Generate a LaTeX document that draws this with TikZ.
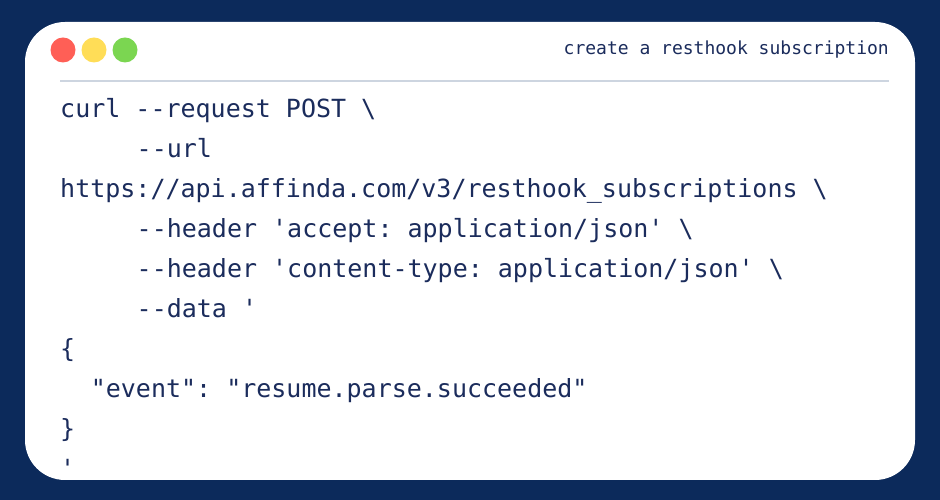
\documentclass[tikz,border=0pt]{standalone}
\usepackage{fontspec}
\setmonofont{DejaVu Sans Mono}
\definecolor{navy}{HTML}{0C2A5B}
\definecolor{codec}{HTML}{1B2C5C}
\definecolor{sep}{HTML}{CDD5E0}
\definecolor{dred}{HTML}{FF5F56}
\definecolor{dyel}{HTML}{FFDD57}
\definecolor{dgrn}{HTML}{7BD651}
\begin{document}
\begin{tikzpicture}[x=1pt,y=1pt,
  code/.style={anchor=base west,inner sep=0,text=codec,font=\fontsize{25}{25}\selectfont\ttfamily},
  dot/.style={circle,minimum size=25,inner sep=0}]
\fill[navy] (0,0) rectangle (940,500);
\useasboundingbox (0,0) rectangle (940,500);
\fill[white,rounded corners=40] (25,20) rectangle (915,478);
\node[dot,fill=dred] (d1) at (63,450) {};
\node[dot,fill=dyel] (d2) at (94,450) {};
\node[dot,fill=dgrn] (d3) at (125,450) {};
\node[anchor=east,inner sep=0,text=codec,font=\fontsize{18}{18}\selectfont\ttfamily] (title) at (889,450) {create a resthook subscription};
\draw[sep,line width=2] (60,419) -- (889,419);
\node[code] (l1) at (60,382) {curl --request POST \textbackslash};
\node[code] (l2) at (136.5,342) {--url};
\node[code] (l3) at (60,302) {https://api.affinda.com/v3/resthook\_subscriptions \textbackslash};
\node[code] (l4) at (136.5,262) {--header 'accept: application/json' \textbackslash};
\node[code] (l5) at (136.5,222) {--header 'content-type: application/json' \textbackslash};
\node[code] (l6) at (136.5,182) {--data '};
\node[code] (l7) at (60,142) {\{};
\node[code] (l8) at (90.6,102) {"event": "resume.parse.succeeded"};
\node[code] (l9) at (60,62) {\}};
\begin{scope}
\clip[rounded corners=40] (25,20) rectangle (915,478);
\node[code] (l10) at (60,22) {'};
\end{scope}
\end{tikzpicture}
\end{document}
